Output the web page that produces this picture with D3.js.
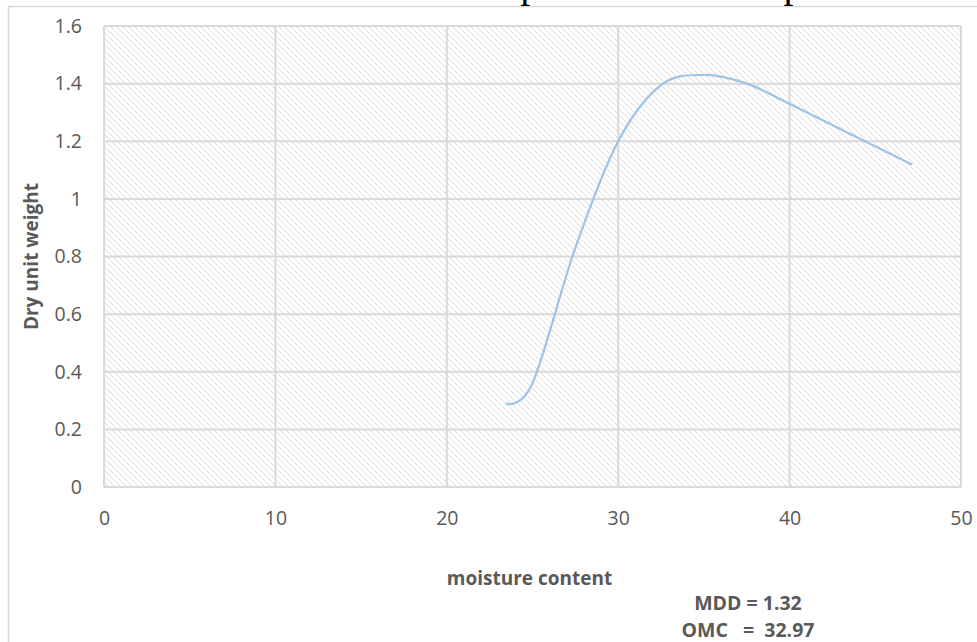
<!DOCTYPE html>
<html>
<head>
<meta charset="utf-8">
<script src="https://cdn.jsdelivr.net/npm/d3@7"></script>
<style>
  html, body { margin: 0; padding: 0; background: #fff; }
  svg { display: block; }
</style>
</head>
<body>
<svg id="chart" width="977" height="642"></svg>
<script>
// Compaction test readings
const moisture = [23.5, 25, 27.5, 30, 32.5, 35, 37.5, 40, 47.1];
const dryUnitWeight = [0.29, 0.36, 0.83, 1.2, 1.395, 1.43, 1.4, 1.33, 1.12];

const xTicks = [0, 10, 20, 30, 40, 50];
const yTicks = [0, 0.2, 0.4, 0.6, 0.8, 1, 1.2, 1.4, 1.6];

const titleText = "Standard Proctor Compaction Test Graph";
const xTitle = "moisture content";
const yTitle = "Dry unit weight";
const notes = ["MDD = 1.32", "OMC\u00a0\u00a0\u00a0=\u00a0\u00a032.97"];

const svg = d3.select("#chart");
const W = 977, H = 642;
const plot = { left: 104, right: 961, top: 26, bottom: 487 };

const x = d3.scaleLinear().domain([0, 50]).range([plot.left, plot.right]);
const y = d3.scaleLinear().domain([0, 1.6]).range([plot.bottom, plot.top]);

const gridColor = "#d9d9d9";
const textColor = "#595959";
const font = "'Open Sans', 'Noto Sans', sans-serif";

// diagonal hatch fill for the plot area: one-pixel steps running down-right
const defs = svg.append("defs");
const step = 6;
const pat = defs.append("pattern")
  .attr("id", "hatch")
  .attr("patternUnits", "userSpaceOnUse")
  .attr("width", step).attr("height", step);
pat.append("rect").attr("width", step).attr("height", step).attr("fill", "#fff");
pat.selectAll("rect.px").data(d3.range(step)).join("rect")
  .attr("class", "px")
  .attr("x", i => i).attr("y", i => i)
  .attr("width", 1).attr("height", 1)
  .attr("fill", "#dadada")
  .attr("shape-rendering", "crispEdges");

// chart frame
svg.append("rect")
  .attr("x", 8.5).attr("y", 6.5)
  .attr("width", W + 10).attr("height", H + 10)
  .attr("fill", "none").attr("stroke", gridColor).attr("stroke-width", 1.5);

// title (sits above the frame)
svg.append("text")
  .attr("x", 493).attr("y", -3.5)
  .attr("text-anchor", "middle")
  .attr("font-family", "'Liberation Serif', 'Times New Roman', serif")
  .attr("font-size", 40)
  .attr("fill", "#000")
  .text(titleText);

svg.append("rect")
  .attr("x", plot.left).attr("y", plot.top)
  .attr("width", plot.right - plot.left).attr("height", plot.bottom - plot.top)
  .attr("fill", "url(#hatch)");

// gridlines
const grid = svg.append("g");
grid.selectAll("line.h").data(yTicks).join("line")
  .attr("class", "h")
  .attr("x1", plot.left).attr("x2", plot.right)
  .attr("y1", d => y(d)).attr("y2", d => y(d))
  .attr("stroke", gridColor).attr("stroke-width", 2);
grid.selectAll("line.v").data(xTicks).join("line")
  .attr("class", "v")
  .attr("y1", plot.top).attr("y2", plot.bottom)
  .attr("x1", d => x(d)).attr("x2", d => x(d))
  .attr("stroke", gridColor).attr("stroke-width", 2);

// axes (labels only)
const xAxis = svg.append("g")
  .attr("transform", `translate(0,${plot.bottom})`)
  .call(d3.axisBottom(x).tickValues(xTicks).tickSize(0).tickPadding(24).tickFormat(d3.format("d")));
const yAxis = svg.append("g")
  .attr("transform", `translate(${plot.left},0)`)
  .call(d3.axisLeft(y).tickValues(yTicks).tickSize(0).tickPadding(22).tickFormat(d => String(+d.toFixed(1))));
[xAxis, yAxis].forEach(a => {
  a.select(".domain").remove();
  a.selectAll("text")
    .attr("font-family", font)
    .attr("font-size", 19.5)
    .attr("fill", textColor);
});

// smoothed curve
const line = d3.line()
  .x(d => x(d[0]))
  .y(d => y(d[1]))
  .curve(d3.curveCardinal.tension(0));
svg.append("path")
  .datum(moisture.map((m, i) => [m, dryUnitWeight[i]]))
  .attr("d", line)
  .attr("fill", "none")
  .attr("stroke", "#9dc3e6")
  .attr("stroke-width", 2.2)
  .attr("stroke-linecap", "round");

// axis titles
svg.append("text")
  .attr("x", (plot.left + plot.right) / 2 - 3).attr("y", 585)
  .attr("text-anchor", "middle")
  .attr("font-family", font).attr("font-weight", "bold")
  .attr("font-size", 19).attr("fill", textColor)
  .text(xTitle);
svg.append("text")
  .attr("transform", `translate(38,${(plot.top + plot.bottom) / 2}) rotate(-90)`)
  .attr("text-anchor", "middle")
  .attr("font-family", font).attr("font-weight", "bold")
  .attr("font-size", 19).attr("fill", textColor)
  .text(yTitle);

// summary values
svg.selectAll("text.note").data(notes).join("text")
  .attr("class", "note")
  .attr("x", 748).attr("y", (d, i) => 610 + i * 27)
  .attr("text-anchor", "middle")
  .attr("font-family", font).attr("font-weight", "bold")
  .attr("font-size", 19.5).attr("fill", textColor)
  .text(d => d);
</script>
</body>
</html>
